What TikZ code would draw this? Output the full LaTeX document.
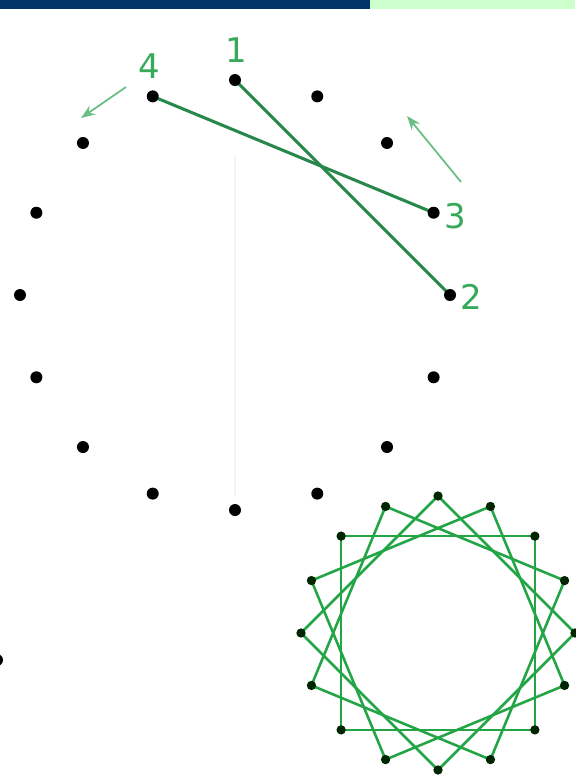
\documentclass[tikz,border=0pt]{standalone}
\usepackage{fontspec}
\setmainfont{DejaVu Sans}
\usetikzlibrary{arrows.meta,calc}
\definecolor{navybar}{RGB}{0,51,102}
\definecolor{mintbar}{RGB}{204,255,204}
\definecolor{threadgreen}{RGB}{40,135,75}
\definecolor{labelgreen}{RGB}{55,170,90}
\definecolor{stargreen}{RGB}{35,165,70}

\begin{document}
\begin{tikzpicture}[x=0.03cm, y=-0.03cm,
    dot/.style={circle, fill=black, inner sep=0pt, minimum size=0.36cm},
    stardot/.style={circle, fill=black!85!green, inner sep=0pt, minimum size=0.28cm},
    thread/.style={draw=threadgreen, line width=2.6pt},
    starline/.style={draw=stargreen, line width=2.2pt},
    lbl/.style={text=labelgreen, font=\fontsize{29}{29}\selectfont, inner sep=0pt},
    hint/.style={-{Stealth[length=12pt, width=9pt]}, draw=labelgreen!75, line width=1.5pt},
  ]
    \useasboundingbox (0,0) rectangle (575,778);

    % --- top bar ---
    \fill[navybar] (0,0) rectangle (370,9);
    \fill[mintbar] (370,0) rectangle (575,9);

    % --- big ring of 16 pins ---
    \coordinate (ctr) at (235,295);
    \draw[black!4, line width=1pt] (235,155) -- (235,497);
    \foreach \i in {0,...,15}
      \coordinate (d\i) at ($(ctr)+({22.5*\i-90}:215)$);

    \draw[thread] (d0) -- (d4);
    \draw[thread] (d15) -- (d3);

    \foreach \i in {0,...,15}
      \node[dot] (p\i) at (d\i) {};

    % labels
    \node[lbl] (n1) at ($(d0)+(1,-30)$) {1};
    \node[lbl] (n2) at ($(d4)+(21,2)$) {2};
    \node[lbl] (n3) at ($(d3)+(22,3)$) {3};
    \node[lbl] (n4) at ($(d15)+(-3,-30)$) {4};

    % direction hints
    \coordinate (h4a) at (126,87);
    \coordinate (h4b) at (81,118);
    \coordinate (h3a) at (461,182);
    \coordinate (h3b) at (407,116);
    \draw[hint] (h4a) -- (h4b);
    \draw[hint] (h3a) -- (h3b);

    % --- finished star ---
    \coordinate (sc) at (438,633);
    \foreach \i in {0,...,15}
      \coordinate (s\i) at ($(sc)+({22.5*\i-90}:137)$);
    \foreach \i in {0,...,15}{
      \pgfmathtruncatemacro{\j}{mod(\i+4,16)}
      \draw[starline] (s\i) -- (s\j);
    }
    \foreach \i in {0,...,15}
      \node[stardot] (q\i) at (s\i) {};

    % cut-off pin at the left edge
    \node[dot] (edge) at (-3,660) {};

  \end{tikzpicture}
\end{document}
